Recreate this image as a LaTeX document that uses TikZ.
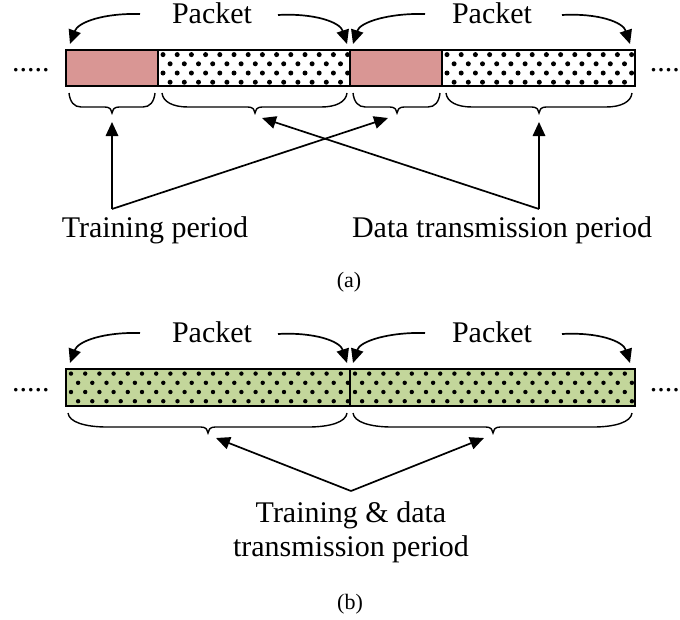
\documentclass[tikz,border=0pt]{standalone}
\usepackage{fontspec}
\setmainfont{Liberation Serif}
\usetikzlibrary{arrows.meta}
\definecolor{trainred}{HTML}{D99694}
\definecolor{datagreen}{HTML}{C3D69B}
\tikzset{
  lbl/.style={font=\fontsize{30}{34}\selectfont, inner sep=0pt},
  capt/.style={font=\fontsize{22}{26}\selectfont, inner sep=0pt},
  arr/.style={line width=1.7pt, -{Triangle[length=14pt,width=12.5pt]}},
  brc/.style={line width=1.4pt},
  segline/.style={line width=1.8pt},
}
% staggered dot pattern inside a rectangle: x1, x2, ytop, ybottom, radius
\newcommand\pktdots[5]{%
  \begin{scope}
    \clip (#1,#3) rectangle (#2,#4);
    \foreach \row in {0,...,3}{
      \pgfmathsetmacro\yy{#3+4.6+\row*9.2}
      \pgfmathsetmacro\off{mod(\row,2)*7.1}
      \foreach \k in {0,...,45}{
        \fill ({#1+5+\off+\k*14.2},\yy) circle[radius=#5pt];
      }
    }
  \end{scope}}
% curly brace under a segment: x1, x2, xtip, ytop, ytip
\newcommand\segbrace[5]{%
  \pgfmathsetmacro\ym{#5-6}
  \pgfmathsetmacro\el{#1+0.28*(#3-#1)}
  \pgfmathsetmacro\er{#2-0.28*(#2-#3)}
  \draw[brc] (#1,#4) .. controls (#1+1,{#4+9}) and ({#1+0.12*(#3-#1)},\ym) .. (\el,\ym)
    -- ({#3-7},\ym) .. controls ({#3-2},\ym) and (#3,{#5-3}) .. (#3,#5)
    .. controls (#3,{#5-3}) and ({#3+2},\ym) .. ({#3+7},\ym)
    -- (\er,\ym) .. controls ({#2-0.12*(#2-#3)},\ym) and (#2-1,{#4+9}) .. (#2,#4);
}
\begin{document}
\begin{tikzpicture}[x=1pt,y=-1pt]
\useasboundingbox (0,0) rectangle (680,619);

% ---------------- (a) separate training and data periods ----------------
\node[lbl, anchor=base] (pkA1) at (212,23) {Packet};
\node[lbl, anchor=base] (pkA2) at (492,23) {Packet};
\coordinate (pkA1l) at (140,14);  \coordinate (pkA1r) at (278,15);
\coordinate (pkA2l) at (425,14);  \coordinate (pkA2r) at (562,15);
\coordinate (eA0) at (70,44);  \coordinate (eA1) at (347,44);
\coordinate (eA2) at (353,44); \coordinate (eA3) at (630,44);
\draw[arr] (pkA1l) .. controls (104,13) and (78,22) .. (eA0);
\draw[arr] (pkA1r) .. controls (314,13) and (340,22) .. (eA1);
\draw[arr] (pkA2l) .. controls (389,13) and (360,22) .. (eA2);
\draw[arr] (pkA2r) .. controls (598,13) and (623,22) .. (eA3);

\node[lbl, anchor=base] (dotsAl) at (31,71) {.....};
\node[lbl, anchor=base east] (dotsAr) at (680,71) {....};

\fill[trainred] (66,50) rectangle (158,86);
\fill[trainred] (350,50) rectangle (442,86);
\pktdots{158}{350}{50}{86}{2.5}
\pktdots{442}{635}{50}{86}{2.5}
\draw[segline] (66,50) rectangle (635,86);
\draw[segline] (158,50) -- (158,86);
\draw[segline] (350,50) -- (350,86);
\draw[segline] (442,50) -- (442,86);

\segbrace{69}{155}{112}{93}{113}
\segbrace{162}{347}{255}{93}{113}
\segbrace{353}{440}{397}{93}{113}
\segbrace{446}{632}{539}{93}{113}

\node[lbl, anchor=base] (trainA) at (155,237) {Training period};
\node[lbl, anchor=base] (dataA) at (502,237) {Data transmission period};
\coordinate (mTr) at (112,209);
\coordinate (mDa) at (539,209);
\coordinate (tTr1) at (112,122);
\coordinate (tTr2) at (388,118);
\coordinate (tDa1) at (262,118);
\coordinate (tDa2) at (539,122);
\draw[arr] (mTr) -- (tTr1);
\draw[arr] (mTr) -- (tTr2);
\draw[arr] (mDa) -- (tDa2);
\draw[arr] (mDa) -- (tDa1);

\node[capt, anchor=base] (capA) at (349,287) {(a)};

% ---------------- (b) training and data share the whole packet ----------------
\node[lbl, anchor=base] (pkB1) at (212,342) {Packet};
\node[lbl, anchor=base] (pkB2) at (492,342) {Packet};
\coordinate (pkB1l) at (140,333);  \coordinate (pkB1r) at (278,334);
\coordinate (pkB2l) at (425,333);  \coordinate (pkB2r) at (562,334);
\coordinate (eB0) at (70,363);  \coordinate (eB1) at (347,363);
\coordinate (eB2) at (353,363); \coordinate (eB3) at (630,363);
\draw[arr] (pkB1l) .. controls (104,332) and (78,341) .. (eB0);
\draw[arr] (pkB1r) .. controls (314,332) and (340,341) .. (eB1);
\draw[arr] (pkB2l) .. controls (389,332) and (360,341) .. (eB2);
\draw[arr] (pkB2r) .. controls (598,332) and (623,341) .. (eB3);

\node[lbl, anchor=base] (dotsBl) at (31,391) {.....};
\node[lbl, anchor=base east] (dotsBr) at (680,391) {....};

\fill[datagreen] (66,369) rectangle (635,406);
\pktdots{66}{350}{369}{406}{2.2}
\pktdots{350}{635}{369}{406}{2.2}
\draw[line width=1.4pt] (66,369) rectangle (635,406);
\draw[line width=1.4pt] (350,369) -- (350,406);

\segbrace{68}{347}{208}{413}{433}
\segbrace{353}{632}{493}{413}{433}

\coordinate (mBoth) at (351,491);
\coordinate (tB1) at (216,438);
\coordinate (tB2) at (484,438);
\draw[arr] (mBoth) -- (tB1);
\draw[arr] (mBoth) -- (tB2);
\node[lbl, anchor=north, align=center] (bothB) at (351,501) {Training \& data\\transmission period};

\node[capt, anchor=base] (capB) at (350,609) {(b)};
\end{tikzpicture}
\end{document}
